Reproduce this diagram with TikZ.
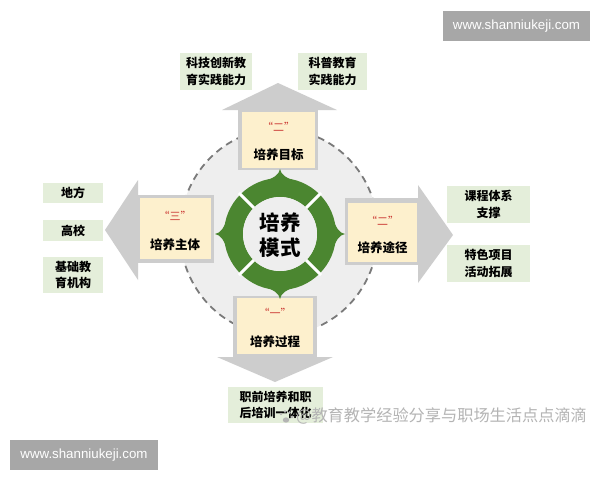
\documentclass[tikz,border=0pt]{standalone}
\usepackage{fontspec}
\setmainfont{Noto Sans CJK SC}
\newfontfamily\latinsans{Liberation Sans}
\definecolor{ringgreen}{HTML}{4B8630}
\definecolor{labelgreen}{HTML}{E4EEDA}
\definecolor{boxyellow}{HTML}{FDF0CD}
\definecolor{arrowgray}{HTML}{CDCDCD}
\definecolor{bggray}{HTML}{EEEEEE}
\definecolor{dashgray}{HTML}{7A7A7A}
\definecolor{quotered}{HTML}{CC3B35}
\definecolor{webgray}{HTML}{A7A7A7}
\definecolor{wmgray}{HTML}{B4B4B4}
\begin{document}
\begin{tikzpicture}[x=1pt,y=-1pt,
  lbl/.style={fill=labelgreen, inner sep=0pt, align=center, text=black,
    font=\bfseries\fontsize{12}{16.5}\selectfont},
  ybox/.style={fill=boxyellow, inner sep=0pt},
  redq/.style={text=quotered, inner sep=0pt, font=\fontsize{11}{11}\selectfont},
  ytext/.style={text=black, inner sep=0pt, font=\bfseries\fontsize{12.5}{13}\selectfont},
  webbox/.style={fill=webgray, text=white, inner sep=0pt, font=\latinsans\fontsize{13.3}{14}\selectfont},
  garrow/.style={fill=arrowgray}]
\useasboundingbox (0,0) rectangle (600,480);
\fill[white] (0,0) rectangle (600,480);

% big dashed circle
\draw[dashgray, fill=bggray, line width=1.8pt, dash pattern=on 7pt off 5pt]
  (279,232) ellipse [x radius=99, y radius=103];

% gray arrows
\fill[garrow] (238,110) rectangle (318,170);
\fill[garrow] (222,110) -- (337,110) -- (278,83) -- cycle;
\fill[garrow] (138,195) rectangle (214,263);
\fill[garrow] (138,180) -- (138,280) -- (105,230) -- cycle;
\fill[garrow] (345,198) rectangle (418,265);
\fill[garrow] (418,185) -- (418,283) -- (453,235) -- cycle;
\fill[garrow] (233,296) rectangle (317,357);
\fill[garrow] (217,357) -- (333,357) -- (275,382) -- cycle;

% yellow boxes
\node[ybox, minimum width=73pt, minimum height=56pt] (ytop) at (278.5,140) {};
\node[ybox, minimum width=71pt, minimum height=61pt] (yleft) at (175,228.5) {};
\node[ybox, minimum width=69pt, minimum height=59pt] (yright) at (382.5,232.5) {};
\node[ybox, minimum width=76pt, minimum height=56pt] (ybottom) at (275,326) {};

\node[redq] (qtop) at (278.5,127) {“二”};
\node[ytext] (ttop) at (278.5,155) {培养目标};
\node[redq] (qleft) at (175,216) {“三”};
\node[ytext] (tleft) at (175,245) {培养主体};
\node[redq] (qright) at (382.5,221) {“二”};
\node[ytext] (tright) at (382.5,248) {培养途径};
\node[redq] (qbottom) at (275,313) {“一”};
\node[ytext] (tbottom) at (275,342) {培养过程};

% green ring
\begin{scope}[shift={(280,234)}]
  \foreach \a in {0,90,180,270}{
    \fill[ringgreen, rotate=\a] (-18,-52) .. controls (-6,-56) and (-1,-59) .. (0,-65)
      .. controls (1,-59) and (6,-56) .. (18,-52) -- (0,-40) -- cycle;
  }
  \fill[ringgreen, even odd rule] (0,0) circle [radius=56] (0,0) circle [radius=37];
  \foreach \a in {45,135,225,315}{
    \draw[white, line width=3pt] (\a:35) -- (\a:58);
  }
  \fill[bggray] (0,0) circle [radius=37];
\end{scope}
\node[inner sep=0pt, align=center, font=\bfseries\fontsize{20.5}{25}\selectfont] (center) at (280,235) {培养\\模式};

% label boxes
\node[lbl, minimum width=72pt, minimum height=37pt] (l1) at (216,71.5) {科技创新教\\育实践能力};
\node[lbl, minimum width=69pt, minimum height=37pt] (l2) at (332.5,71.5) {科普教育\\实践能力};
\node[lbl, minimum width=60pt, minimum height=20pt] (l3) at (73,193) {地方};
\node[lbl, minimum width=60pt, minimum height=21pt] (l4) at (73,230.5) {高校};
\node[lbl, minimum width=60pt, minimum height=36pt] (l5) at (73,275) {基础教\\育机构};
\node[lbl, minimum width=83pt, minimum height=37pt] (l6) at (488.5,204.5) {课程体系\\支撑};
\node[lbl, minimum width=83pt, minimum height=37pt] (l7) at (488.5,263.5) {特色项目\\活动拓展};
\node[lbl, minimum width=95pt, minimum height=36pt] (l8) at (275.5,405) {职前培养和职\\后培训一体化};

% website boxes
\node[webbox, minimum width=147pt, minimum height=30pt] (web1) at (516.5,26) {www.shanniukeji.com};
\node[webbox, minimum width=148pt, minimum height=30pt] (web2) at (84,455) {www.shanniukeji.com};

% watermark
\begin{scope}[wmgray]
  \fill (286,420) ellipse [x radius=3.2, y radius=2.6];
  \fill (281,414) circle [radius=1.4];
  \fill (285,411.5) circle [radius=1.4];
  \fill (289.5,412.5) circle [radius=1.4];
  \fill (292,417) circle [radius=1.3];
\end{scope}
\node[text=wmgray, inner sep=0pt, anchor=west, font=\fontsize{16.2}{17}\selectfont] (wm) at (296,416) {@教育教学经验分享与职场生活点点滴滴};
\end{tikzpicture}
\end{document}
